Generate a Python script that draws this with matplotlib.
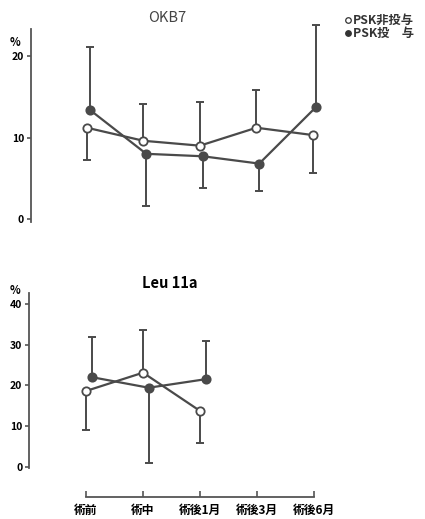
import matplotlib
matplotlib.use("Agg")
import matplotlib.pyplot as plt
from matplotlib.lines import Line2D
import numpy as np

plt.rcParams['font.family'] = ['Noto Sans CJK JP', 'DejaVu Sans']

categories = ['術前', '術中', '術後1月', '術後3月', '術後6月']

# OKB7 (%)
okb7_non_mean = [11.2, 9.6, 9.0, 11.2, 10.3]
okb7_non_bar = [7.3, 14.1, 14.4, 15.8, 5.7]      # end of error bar
okb7_psk_mean = [13.4, 8.0, 7.7, 6.8, 13.7]
okb7_psk_bar = [21.1, 1.6, 3.8, 3.4, 23.8]

# Leu 11a (%)
leu_non_mean = [18.6, 23.1, 13.7]
leu_non_bar = [9.1, 33.5, 5.9]
leu_psk_mean = [22.0, 19.4, 21.5]
leu_psk_bar = [31.8, 0.8, 31.0]

legend_labels = ['PSK非投与', 'PSK投　与']

W, H = 425, 519
fig = plt.figure(figsize=(W / 100, H / 100), dpi=100)
fig.patch.set_facecolor('white')

LC = '#4a4a4a'


def px_axes(left, top, right, bottom):
    return fig.add_axes([left / W, 1 - bottom / H, (right - left) / W, (bottom - top) / H])


def draw_series(ax, x, mean, bar, filled):
    mean = np.asarray(mean)
    bar = np.asarray(bar)
    lower = np.where(bar < mean, mean - bar, 0)
    upper = np.where(bar > mean, bar - mean, 0)
    ax.errorbar(x, mean, yerr=[lower, upper], fmt='none', ecolor=LC,
                elinewidth=1.4, capsize=3.2, capthick=1.4, zorder=2, clip_on=False)
    ax.plot(x, mean, color=LC, lw=1.6, zorder=3, clip_on=False)
    ax.plot(x, mean, ls='none', marker='o', ms=6,
            mfc=LC if filled else 'white', mec=LC, mew=1.3, zorder=4, clip_on=False)


# ---------- top panel: OKB7 ----------
ax1 = px_axes(31, 19.3, 340, 222.3)
ax1.set_xlim(-0.99, 4.48)
ax1.set_ylim(-0.4, 24.5)
x5 = np.arange(len(categories))
draw_series(ax1, x5, okb7_non_mean, okb7_non_bar, False)
draw_series(ax1, x5 + 0.05, okb7_psk_mean, okb7_psk_bar, True)
for s in ['top', 'right', 'bottom']:
    ax1.spines[s].set_visible(False)
ax1.spines['left'].set_bounds(-0.4, 23.3)
ax1.spines['left'].set_color('#555555')
ax1.spines['left'].set_linewidth(1.3)
ax1.set_xticks([])
ax1.set_yticks([0, 10, 20])
ax1.tick_params(axis='y', direction='out', length=3, width=1.2, color='#555555',
                labelsize=7.5, pad=2)
for t in ax1.get_yticklabels():
    t.set_fontweight('bold')
ax1.patch.set_alpha(0)
fig.text(15 / W, 1 - 43 / H, '%', fontsize=8, fontweight='bold', ha='center', va='center')
fig.text(167 / W, 1 - 18 / H, 'OKB7', fontsize=10.5, color='#444444', ha='center', va='center')

# legend (markers + text)
for i, (lab, filled) in enumerate(zip(legend_labels, [False, True])):
    yy = 1 - (20 + 13 * i) / H
    fig.add_artist(Line2D([348 / W], [yy], transform=fig.transFigure, ls='none',
                          marker='o', ms=4, mew=0.9, mec='#333333',
                          mfc='#333333' if filled else 'white'))
    fig.text(353 / W, yy, lab, fontsize=8.8, fontweight='bold', color='#333333',
             ha='left', va='center')

# ---------- bottom panel: Leu 11a ----------
ax2 = px_axes(29.3, 287.6, 341.4, 497.3)
ax2.set_xlim(-0.995, 4.48)
ax2.set_ylim(-7.52, 44)
x3 = np.arange(len(leu_non_mean))
draw_series(ax2, x3, leu_non_mean, leu_non_bar, False)
draw_series(ax2, x3 + 0.1, leu_psk_mean, leu_psk_bar, True)
for s in ['top', 'right']:
    ax2.spines[s].set_visible(False)
ax2.spines['left'].set_bounds(-0.3, 42.7)
ax2.spines['bottom'].set_bounds(0, 4)
for s in ['left', 'bottom']:
    ax2.spines[s].set_color('#555555')
    ax2.spines[s].set_linewidth(1.3)
ax2.set_yticks([0, 10, 20, 30, 40])
ax2.tick_params(axis='y', direction='out', length=3, width=1.2, color='#555555',
                labelsize=7.5, pad=2)
ax2.set_xticks(x5)
ax2.set_xticklabels(categories)
ax2.tick_params(axis='x', direction='in', length=4, width=1.2, color='#555555',
                labelsize=8.5, pad=4.5)
for t in ax2.get_yticklabels() + ax2.get_xticklabels():
    t.set_fontweight('bold')
ax2.patch.set_alpha(0)
fig.text(15 / W, 1 - 290 / H, '%', fontsize=8, fontweight='bold', ha='center', va='center')
fig.text(170 / W, 1 - 283 / H, 'Leu 11a', fontsize=10.5, fontweight='bold', ha='center', va='center')

fig.savefig('out.png', dpi=100, facecolor='white')
